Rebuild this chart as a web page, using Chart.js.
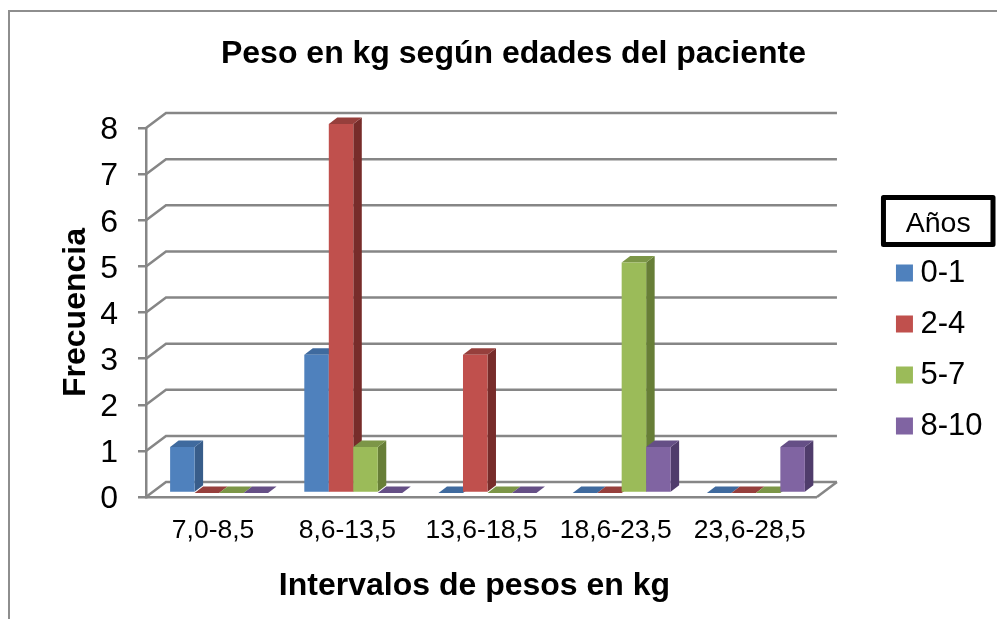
<!DOCTYPE html>
<html>
<head>
<meta charset="utf-8">
<title>Peso en kg según edades del paciente</title>
<script src="https://cdn.jsdelivr.net/npm/chart.js@4"></script>
<style>
  html, body { margin: 0; background: #fff; overflow: hidden; }
  #frame { position: absolute; left: 8px; top: 10px; right: -10px; bottom: -10px; border: 2px solid #8e8e8e; }
  #wrap { position: absolute; left: 0; top: 0; width: 997px; height: 619px; }
</style>
</head>
<body>
<div id="frame"></div>
<div id="wrap"><canvas id="chart"></canvas></div>
<script>
const categories = ['7,0-8,5', '8,6-13,5', '13,6-18,5', '18,6-23,5', '23,6-28,5'];
const yTicks     = [0, 1, 2, 3, 4, 5, 6, 7, 8];
const series     = ['0-1', '2-4', '5-7', '8-10'];
const edad0a1    = [1, 3, 0, 0, 0];
const edad2a4    = [0, 8, 3, 0, 0];
const edad5a7    = [0, 1, 0, 5, 0];
const edad8a10   = [0, 0, 0, 1, 1];

const FRONT = ['#4f81bd', '#c0504d', '#9bbb59', '#8064a2'];
const TOP   = ['#3f6a9e', '#963f3c', '#7c9647', '#654f86'];
const SIDE  = ['#385d8a', '#772c2a', '#677e37', '#4f3c6b'];
const AXIS  = '#868686';
const FONT  = 'Liberation Sans, Arial, sans-serif';
const XTITLE = 'Intervalos de pesos en kg';

const WALL = { x: 20, y: 15 };    // back wall offset
const BARS = { x: 6,  y: 4 };     // bars sit a bit behind the front plane
const CUBE = { x: 8.5, y: 6.5 };  // depth of each bar

// ── 3D look: walls behind, sides and tops on the bars ──
const cube3d = {
  id: 'cube3d',
  beforeDatasetsDraw(chart) {
    const { ctx, scales: { x, y } } = chart;
    ctx.save();
    ctx.strokeStyle = AXIS;
    ctx.lineWidth = 2.5;
    yTicks.forEach(v => {
      const py = y.getPixelForValue(v);
      ctx.beginPath();
      ctx.moveTo(x.left, py);
      ctx.lineTo(x.left + WALL.x, py - WALL.y);
      ctx.lineTo(x.right + WALL.x, py - WALL.y);
      ctx.stroke();
    });
    const py0 = y.getPixelForValue(0);
    ctx.beginPath();
    ctx.moveTo(x.right, py0);
    ctx.lineTo(x.right + WALL.x, py0 - WALL.y);
    ctx.stroke();
    ctx.restore();
  },
  beforeDatasetDraw() { return false; },
  afterDatasetsDraw(chart) {
    const { ctx } = chart;
    ctx.save();
    ctx.translate(BARS.x, -BARS.y);
    // left to right, so each bar covers the side of the one before it
    series.forEach((s, i) => {
      chart.getDatasetMeta(i).data.forEach(bar => {
        const l = bar.x - bar.width / 2, r = bar.x + bar.width / 2;
        ctx.fillStyle = SIDE[i];
        ctx.beginPath();
        ctx.moveTo(r, bar.y);
        ctx.lineTo(r + CUBE.x, bar.y - CUBE.y);
        ctx.lineTo(r + CUBE.x, bar.base - CUBE.y);
        ctx.lineTo(r, bar.base);
        ctx.fill();
        ctx.fillStyle = TOP[i];
        ctx.beginPath();
        ctx.moveTo(l, bar.y);
        ctx.lineTo(l + CUBE.x, bar.y - CUBE.y);
        ctx.lineTo(r + CUBE.x, bar.y - CUBE.y);
        ctx.lineTo(r, bar.y);
        ctx.fill();
        bar.draw(ctx);
      });
    });
    ctx.restore();
  },
  afterDraw(chart) {
    const { ctx, legend, scales: { x } } = chart;
    ctx.save();
    // box round the legend title
    ctx.strokeStyle = '#000';
    ctx.lineWidth = 5;
    ctx.lineJoin = 'round';
    ctx.strokeRect(legend.left - 0.5, 197.5, legend.width + 1, 47);
    // x axis title sits slightly left of the plot centre
    ctx.fillStyle = '#000';
    ctx.font = 'bold 32px ' + FONT;
    ctx.textAlign = 'center';
    ctx.textBaseline = 'middle';
    ctx.fillText(XTITLE, (x.left + x.right) / 2 - 7, 586);
    ctx.restore();
  },
};

new Chart(document.getElementById('chart'), {
  type: 'bar',
  data: {
    labels: categories,
    datasets: [edad0a1, edad2a4, edad5a7, edad8a10].map((data, i) => ({
      label: series[i],
      data,
      backgroundColor: FRONT[i],
      pointStyle: 'rect',
      categoryPercentage: 0.73,
      barPercentage: 1,
    })),
  },
  plugins: [cube3d],
  options: {
    responsive: true,
    maintainAspectRatio: false,
    animation: false,
    layout: { padding: { left: 34.5, right: 4.5, top: 0, bottom: 0 } },
    plugins: {
      tooltip: { enabled: false },
      title: {
        display: true,
        text: 'Peso en kg según edades del paciente',
        color: '#000',
        font: { family: FONT, size: 32, weight: 'bold', lineHeight: 1.2 },
        padding: { top: 35, bottom: 54.6 },
      },
      legend: {
        position: 'right',
        align: 'start',
        title: {
          display: true,
          text: 'Años',
          color: '#000',
          font: { family: FONT, size: 28.5, weight: 'normal', lineHeight: 0.965 },
          padding: { top: 210, bottom: 0 },
        },
        labels: {
          color: '#000',
          font: { family: FONT, size: 31 },
          usePointStyle: true,
          boxWidth: 1,
          boxHeight: 17,
          padding: 20,
        },
      },
    },
    scales: {
      x: {
        offset: true,
        afterFit(s) { s.height = 122; },
        grid: { display: true, drawOnChartArea: false, drawTicks: false },
        border: { color: AXIS, width: 2.5 },
        ticks: { color: '#000', font: { family: FONT, size: 26.5 }, padding: 18, maxRotation: 0, autoSkip: false },
      },
      y: {
        min: 0,
        max: 8,
        afterFit(s) { s.width = 111.5; },
        grid: { drawOnChartArea: false, color: AXIS, lineWidth: 2.5, tickLength: 8, tickColor: AXIS },
        border: { color: AXIS, width: 2.5 },
        ticks: { color: '#000', font: { family: FONT, size: 32 }, padding: 20, stepSize: 1, labelOffset: 2.5 },
        title: {
          display: true,
          text: 'Frecuencia',
          color: '#000',
          font: { family: FONT, size: 32, weight: 'bold', lineHeight: 1.2 },
          padding: { top: 22.5, bottom: 0 },
        },
      },
      // empty axis, only keeps room between the plot and the legend
      gap: {
        axis: 'y',
        position: 'right',
        afterFit(s) { s.width = 67; },
        grid: { display: false },
        border: { display: false },
        ticks: { display: false },
      },
    },
  },
});
</script>
</body>
</html>
